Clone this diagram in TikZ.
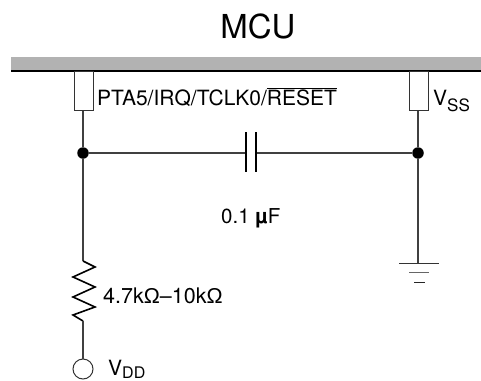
\documentclass[tikz,border=0pt]{standalone}
\usepackage{fontspec}
\setmainfont{TeX Gyre Heros}
\newfontfamily\symfont{Liberation Sans}
\newcommand{\subtxt}[1]{\raisebox{-6.5pt}{\fontsize{17}{18}\selectfont #1}}
\newcommand{\subtxtlow}[1]{\raisebox{-3pt}{\fontsize{16}{18}\selectfont #1}}
\tikzset{
  x=1pt,y=-1pt,
  wire/.style={line width=1.2pt,draw=black!75},
  pinbox/.style={draw=black!80,line width=1pt,fill=white,minimum width=19pt,minimum height=39pt,inner sep=0pt},
  junction/.style={circle,fill=black,minimum size=11.5pt,inner sep=0pt},
  lbl/.style={inner sep=0pt,anchor=base west,font=\fontsize{21}{24}\selectfont},
  plate/.style={line width=1.3pt,draw=black},
}
\begin{document}
\begin{tikzpicture}
\useasboundingbox (0,0) rectangle (481,380);
\fill[black!30] (11,57) rectangle (481,71);
\draw[line width=1.6pt] (11,71) -- (481,71);
\node[pinbox] (p1) at (83.5,90.5) {};
\node[pinbox] (p2) at (418.5,90.5) {};
\node[junction] (j1) at (83,153) {};
\node[junction] (j2) at (418,153) {};
\coordinate (c1) at (246,153);
\coordinate (c2) at (256,153);
\draw[wire] (p1.south -| j1) -- (j1);
\draw[wire] (p2.south -| j2) -- (j2);
\draw[wire] (j1) -- (c1);
\draw[wire] (c2) -- (j2);
\draw[plate] (246,132) -- (246,172);
\draw[plate] (256,132) -- (256,172);
\coordinate (r1) at (83,261);
\coordinate (r2) at (83,321);
\node[circle,draw=black!80,line width=1pt,minimum size=20pt,inner sep=0pt] (vdd) at (83,369) {};
\draw[wire] (j1) -- (r1);
\draw[line width=1.6pt,line join=miter] (r1)
  -- (95,267) -- (73,277) -- (95,287) -- (73,297) -- (95,307) -- (73,315) -- (r2);
\draw[wire] (r2) -- (vdd.north);
\coordinate (g) at (418,263);
\draw[wire] (j2) -- (g);
\draw[line width=1pt,draw=black!80] (399,263) -- (439,263);
\draw[line width=1pt,draw=black!60] (409,272.5) -- (429,272.5);
\draw[line width=1pt,draw=black!85] (414,282) -- (425,282);
\node[anchor=base,inner sep=0pt,font=\fontsize{33}{36}\selectfont] (mcu) at (258,38) {MCU};
\node[lbl] (l1) at (97,105) {PTA5/IRQ/TCLK0/$\overline{\mbox{RESET}}$};
\node[lbl] (l2) at (433,105) {V\subtxt{SS}};
\node[lbl,font=\fontsize{20.5}{24}\selectfont] (l3) at (221,223.5) {0.1 {\bfseries µ}F};
\node[lbl,font=\fontsize{21.5}{24}\selectfont] (l4) at (103,303) {4.7k{\symfont Ω}–10k{\symfont Ω}};
\node[lbl] (l5) at (108,375) {V\subtxtlow{DD}};
\end{tikzpicture}
\end{document}
